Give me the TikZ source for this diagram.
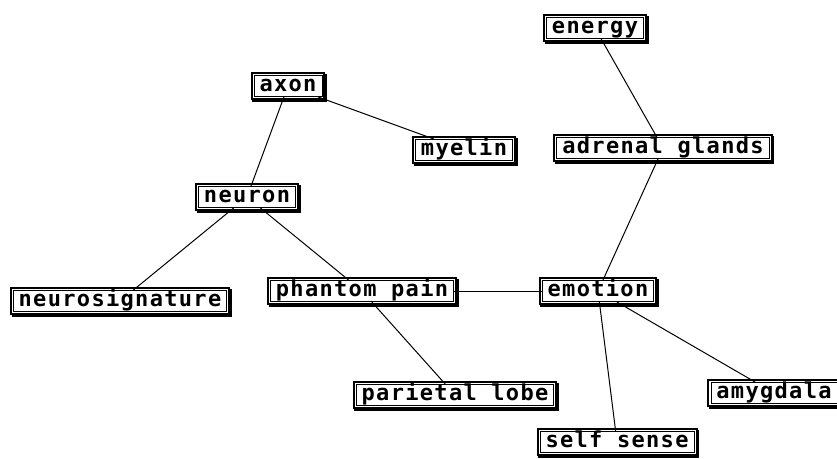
\documentclass[tikz,border=0pt]{standalone}
\usepackage{fontspec}
\newfontfamily\boxfont{DejaVu Sans Mono}[LetterSpace=6]
\tikzset{
  conceptbox/.style={draw, line width=0.8pt, fill=white, inner sep=0pt, inner xsep=5.5pt,
    minimum height=21pt, text height=12pt, text depth=1pt,
    font=\boxfont\bfseries\fontsize{22}{22}\selectfont,
    preaction={draw, line width=7pt, transform canvas={shift={(1.8pt,-1.8pt)}}},
    preaction={draw, line width=7pt},
    preaction={draw=white, line width=3pt}},
  link/.style={line width=1pt}
}
\begin{document}
\begin{tikzpicture}[x=1pt, y=-1pt]
\useasboundingbox (0,0) rectangle (837,458);

\node[conceptbox] (energy) at (595,28) {energy}; % top right
\node[conceptbox] (adrenal) at (663,148) {adrenal glands};
\node[conceptbox] (axon) at (288,86) {axon};
\node[conceptbox] (myelin) at (464,150) {myelin};
\node[conceptbox] (neuron) at (247,197) {neuron};
\node[conceptbox] (neurosig) at (120,301) {neurosignature};
\node[conceptbox] (phantom) at (362,291) {phantom pain};
\node[conceptbox] (emotion) at (598,291) {emotion};
\node[conceptbox] (parietal) at (455,395) {parietal lobe};
\node[conceptbox] (amygdala) at (774,393) {amygdala};
\node[conceptbox] (selfsense) at (617,442) {self sense};

\draw[link] (energy) -- (adrenal); % energy link
\draw[link] (axon) -- (myelin);
\draw[link] (axon) -- (neuron);
\draw[link] (neuron) -- (neurosig);
\draw[link] (neuron) -- (phantom);
\draw[link] (phantom) -- (emotion); % the one horizontal link
\draw[link] (phantom) -- (parietal);
\draw[link] (emotion) -- (adrenal);
\draw[link] (emotion) -- (selfsense);
\draw[link] (emotion) -- (amygdala);

\end{tikzpicture}
\end{document}
